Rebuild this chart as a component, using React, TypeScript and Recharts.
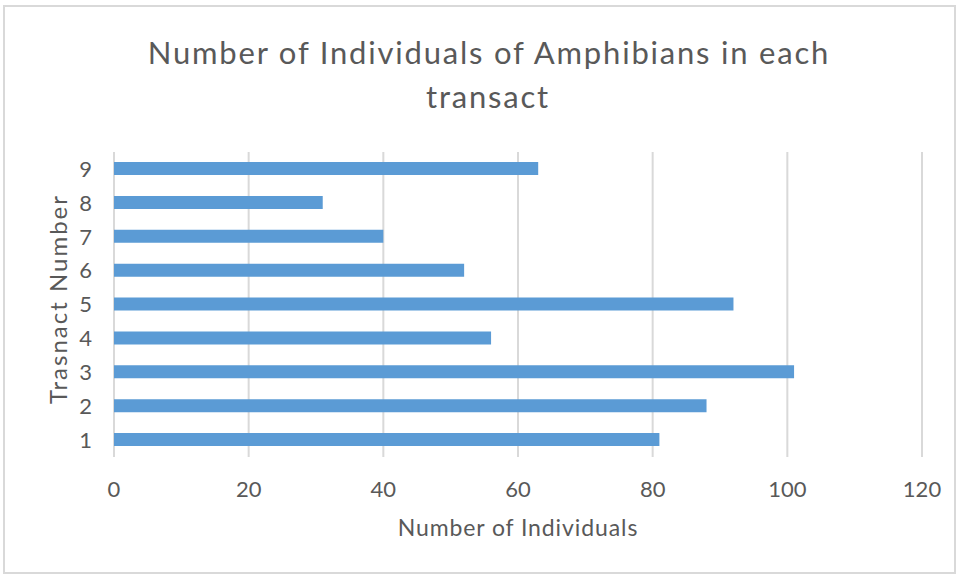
import React from 'react';
import { BarChart, Bar, XAxis, YAxis, CartesianGrid } from 'recharts';

// transect numbers, bottom to top
const transects = ['1', '2', '3', '4', '5', '6', '7', '8', '9'];
const individuals = [81, 88, 101, 56, 92, 52, 40, 31, 63];
const xTicks = [0, 20, 40, 60, 80, 100, 120];

const data = transects.map((t, i) => ({ transect: t, count: individuals[i] }));

const FONT = 'Lato, Carlito, Calibri, sans-serif';
const GREY = '#595959';
const BLUE = '#5b9bd5';

const App: React.FC = () => {
  return (
    <div style={{ position: 'absolute', left: 0, top: 0, width: 960, height: 575, background: '#fff' }}>
      <BarChart
        width={960}
        height={575}
        data={data}
        layout="vertical"
        margin={{ top: 152, right: 38, bottom: 0, left: 0 }}
      >
        <rect x={4} y={6} width={951} height={567} fill="none" stroke="#d9d9d9" strokeWidth={2} />
        <CartesianGrid horizontal={false} stroke="#d9d9d9" strokeWidth={2} />
        <XAxis
          type="number"
          domain={[0, 120]}
          ticks={xTicks}
          height={118}
          axisLine={false}
          tickLine={false}
          tickMargin={18}
          tick={{ fill: GREY, fontSize: 22, fontFamily: FONT }}
        />
        <YAxis
          type="category"
          dataKey="transect"
          reversed
          width={114}
          axisLine={false}
          tickLine={false}
          tickMargin={16}
          tick={{ fill: GREY, fontSize: 22, fontFamily: FONT }}
        />
        <Bar dataKey="count" fill={BLUE} barSize={13} isAnimationActive={false} />
        <text x={489} y={64} textAnchor="middle" fill={GREY} fontSize={31} letterSpacing={1.8} fontFamily={FONT}>
          Number of Individuals of Amphibians in each
        </text>
        <text x={488} y={108} textAnchor="middle" fill={GREY} fontSize={31} letterSpacing={1.8} fontFamily={FONT}>
          transact
        </text>
        <text x={518} y={536} textAnchor="middle" fill={GREY} fontSize={23} letterSpacing={0.9} fontFamily={FONT}>
          Number of Individuals
        </text>
        <text
          x={57}
          y={299}
          textAnchor="middle"
          dominantBaseline="central"
          transform="rotate(-90, 57, 299)"
          fill={GREY}
          fontSize={24}
          letterSpacing={2}
          fontFamily={FONT}
        >
          Trasnact Number
        </text>
      </BarChart>
    </div>
  );
};

export default App;
